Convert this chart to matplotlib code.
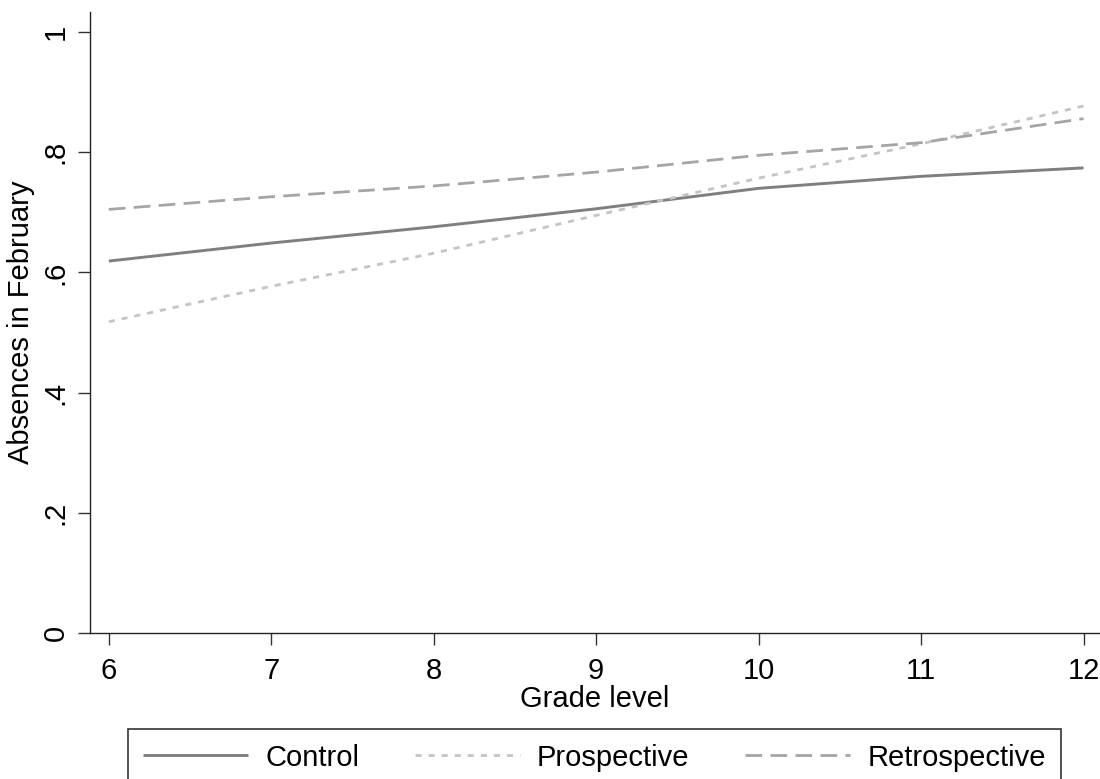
import matplotlib
matplotlib.use("Agg")
import matplotlib.pyplot as plt

plt.rcParams['font.family'] = ['Liberation Sans', 'DejaVu Sans']

grades = [6, 7, 8, 9, 10, 11, 12]
control = [0.619, 0.649, 0.676, 0.706, 0.740, 0.760, 0.774]
prospective = [0.518, 0.577, 0.632, 0.695, 0.757, 0.814, 0.877]
retrospective = [0.705, 0.726, 0.744, 0.767, 0.795, 0.816, 0.856]

y_ticks = [0, 0.2, 0.4, 0.6, 0.8, 1]
y_tick_labels = ["0", ".2", ".4", ".6", ".8", "1"]

fig = plt.figure(figsize=(11, 7.79), dpi=100)
ax = fig.add_axes([0.0818, 0.1874, 0.918, 0.7976])

ax.plot(grades, control, color='#7f7f7f', lw=2.1, label='Control',
        solid_capstyle='butt')
ax.plot(grades, prospective, color='#c4c4c4', lw=2.0, label='Prospective',
        dashes=(2.2, 2.5))
ax.plot(grades, retrospective, color='#a5a5a5', lw=2.0, label='Retrospective',
        dashes=(6, 3))

ax.set_xlim(5.884, 12.1)
ax.set_ylim(0, 1.034)
ax.set_xticks(grades)
ax.set_yticks(y_ticks)
ax.set_yticklabels(y_tick_labels, rotation=90, va='center')

for side in ['top', 'right']:
    ax.spines[side].set_visible(False)
for side in ['left', 'bottom']:
    ax.spines[side].set_linewidth(1.0)
    ax.spines[side].set_color('#222222')

ax.tick_params(axis='both', length=8.5, width=1.0, color='#333333',
               labelsize=21)
ax.tick_params(axis='x', pad=9)
ax.tick_params(axis='y', pad=6)

ax.set_xlabel('Grade level', fontsize=21, labelpad=0)
ax.set_ylabel('Absences in February', fontsize=21, labelpad=5)

leg = fig.legend(loc='upper left', ncol=3,
                 bbox_to_anchor=(128 / 1100, 1 - 729 / 779),
                 fontsize=21, frameon=True, fancybox=False, framealpha=1,
                 edgecolor='#333333', handlelength=3.6, handletextpad=0.6,
                 columnspacing=1.9, borderpad=0.5, borderaxespad=0)
leg.get_frame().set_linewidth(1.2)

fig.savefig('out.png', dpi=100)
